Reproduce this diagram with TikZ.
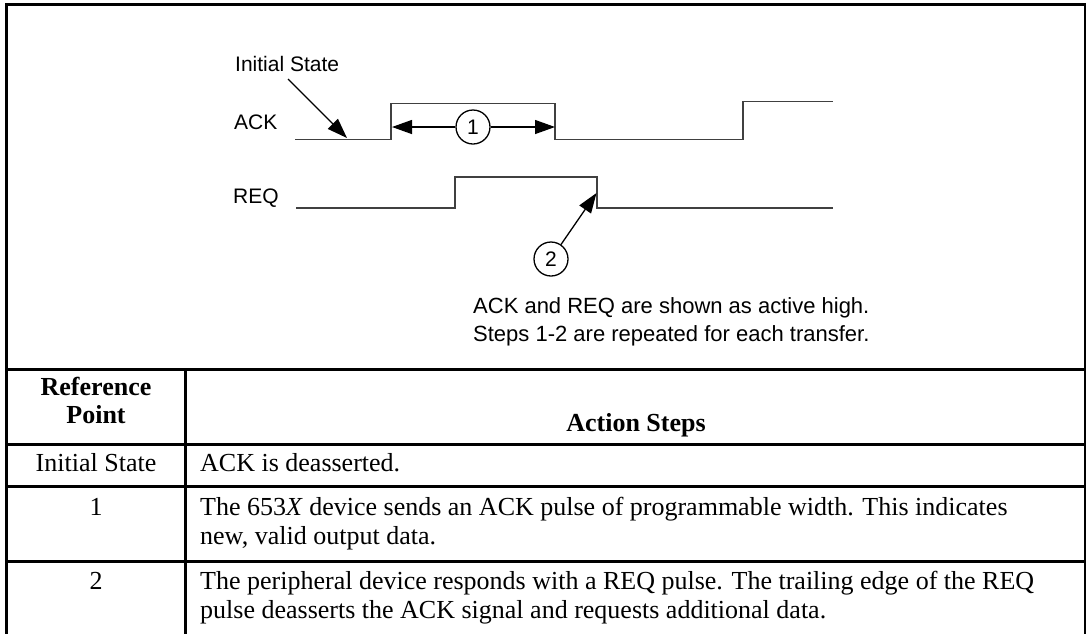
\documentclass[tikz,border=0pt]{standalone}
\usepackage{fontspec}
\setmainfont{Liberation Serif}
\newfontfamily\sansf{Liberation Sans}
\usetikzlibrary{arrows.meta}
\begin{document}
\begin{tikzpicture}[x=1pt,y=-1pt,
  frame/.style={line width=3pt,black},
  wave/.style={line width=1.8pt,draw=black!75,line join=miter},
  pointer/.style={line width=1.3pt,-{Triangle[length=20pt,width=14pt]}},
  callout/.style={circle,draw,line width=1.3pt,minimum size=34pt,inner sep=0pt,font=\sansf\fontsize{21}{25}\selectfont},
  lbl/.style={inner sep=0pt,font=\sansf\fontsize{21}{25}\selectfont},
  note/.style={inner sep=0pt,font=\sansf\fontsize{22}{26}\selectfont},
  cell/.style={inner sep=0pt,font=\fontsize{26}{31}\selectfont},
  head/.style={inner sep=0pt,font=\bfseries\fontsize{26}{31}\selectfont}]
\useasboundingbox (0,0) rectangle (1086,633);
% frame and table rules
\draw[frame] (6.5,640) -- (6.5,4.5) -- (1085,4.5) -- (1085,640);
\draw[frame] (6.5,369) -- (1085,369);
\draw[frame] (6.5,444) -- (1085,444);
\draw[frame] (6.5,486) -- (1085,486);
\draw[frame] (6.5,561) -- (1085,561);
\draw[frame] (185.5,369) -- (185.5,640);
% signal labels
\node[lbl,anchor=base west] (init) at (235,71) {Initial State};
\node[lbl,anchor=base west] (ack) at (234,129) {ACK};
\node[lbl,anchor=base west] (req) at (233,203) {REQ};
% ACK waveform
\coordinate (a0) at (295,139.5);
\coordinate (a1) at (391,139.5);
\coordinate (a2) at (391,103.5);
\coordinate (a3) at (555,103.5);
\coordinate (a4) at (555,139.5);
\coordinate (a5) at (743,139.5);
\coordinate (a6) at (743,101.5);
\coordinate (a7) at (833,101.5);
\draw[wave] (a0) -- (a1) -- (a2) -- (a3) -- (a4) -- (a5) -- (a6) -- (a7);
% REQ waveform
\coordinate (r0) at (296,207.7);
\coordinate (r1) at (455,207.7);
\coordinate (r2) at (455,176.7);
\coordinate (r3) at (597,176.7);
\coordinate (r4) at (597,207.7);
\coordinate (r5) at (833,207.7);
\draw[wave] (r0) -- (r1) -- (r2) -- (r3) -- (r4) -- (r5);
% initial state pointer
\coordinate (initsrc) at (288,79);
\coordinate (inittip) at (347,138);
\draw[pointer] (initsrc) -- (inittip);
% step 1 callout
\node[callout] (c1) at (473,127) {1};
\coordinate (e1) at (392,127);
\coordinate (e2) at (555,127);
\draw[pointer] (c1) -- (e1);
\draw[pointer] (c1) -- (e2);
% step 2 callout
\node[callout] (c2) at (551,259) {2};
\coordinate (e3) at (596.5,193);
\draw[pointer] (c2) -- (e3);
% notes
\node[note,anchor=base west] (n1) at (473,313) {ACK and REQ are shown as active high.};
\node[note,anchor=base west] (n2) at (473,341) {Steps 1-2 are repeated for each transfer.};
% table header
\node[head,anchor=base] (h1) at (96,395) {Reference};
\node[head,anchor=base] (h2) at (96,423) {Point};
\node[head,anchor=base] (h3) at (636,431) {Action Steps};
% rows
\node[cell,anchor=base] (p0) at (96,471) {Initial State};
\node[cell,anchor=base west] (t0) at (200,471) {ACK is deasserted.};
\node[cell,anchor=base] (p1) at (96,515) {1};
\node[cell,anchor=base west] (t1a) at (200,515) {The 653\textit{X} device sends an ACK pulse of programmable width. This indicates};
\node[cell,anchor=base west] (t1b) at (200,544) {new, valid output data.};
\node[cell,anchor=base] (p2) at (96,589) {2};
\node[cell,anchor=base west] (t2a) at (200,589) {The peripheral device responds with a REQ pulse. The trailing edge of the REQ};
\node[cell,anchor=base west] (t2b) at (200,618) {pulse deasserts the ACK signal and requests additional data.};
\end{tikzpicture}
\end{document}
